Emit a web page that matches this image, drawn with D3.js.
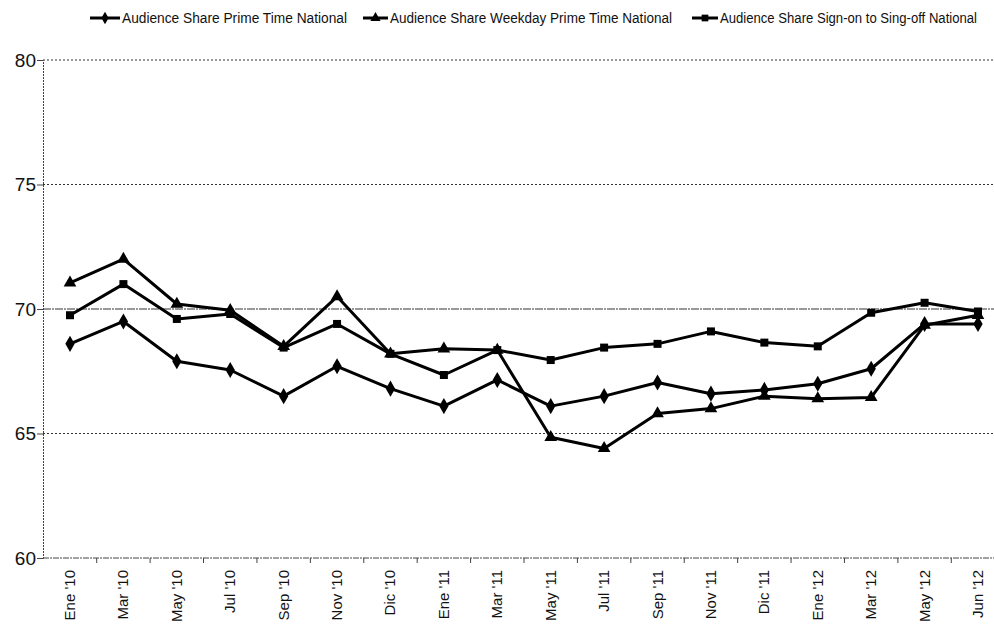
<!DOCTYPE html>
<html><head><meta charset="utf-8">
<script src="https://cdn.jsdelivr.net/npm/d3@7"></script>
<style>body{margin:0;background:#fff}svg{display:block}</style>
</head><body>
<svg id="c" width="994" height="628"></svg>
<script>
const categories = ["Ene '10","Mar '10","May '10","Jul '10","Sep '10","Nov '10","Dic '10","Ene '11","Mar '11","May '11","Jul '11","Sep '11","Nov '11","Dic '11","Ene '12","Mar '12","May '12","Jun '12"];
const primeTime = [68.6,69.5,67.9,67.55,66.5,67.7,66.8,66.1,67.15,66.1,66.5,67.05,66.6,66.75,67.0,67.6,69.4,69.4];
const weekdayPrimeTime = [71.05,72.0,70.2,69.95,68.5,70.5,68.2,68.4,68.35,64.85,64.4,65.8,66.0,66.5,66.4,66.45,69.35,69.75];
const signOnOff = [69.75,71.0,69.6,69.8,68.45,69.4,68.2,67.35,68.35,67.95,68.45,68.6,69.1,68.65,68.5,69.85,70.25,69.9];
const seriesNames = ["Audience Share Prime Time National","Audience Share Weekday Prime Time National","Audience Share Sign-on to Sing-off National"];
const yTicks = [60,65,70,75,80];

const svg = d3.select("#c");
const x = d3.scalePoint().domain(categories).range([70, 978]);
const y = d3.scaleLinear().domain([60, 80]).range([558, 60]);
const step = x.step();

// gridlines
svg.append("g").selectAll("line").data(yTicks.filter(t => t > 60)).join("line")
  .attr("x1", 43).attr("x2", 994)
  .attr("y1", d => y(d)).attr("y2", d => y(d))
  .attr("stroke", "#333").attr("stroke-width", 1)
  .attr("stroke-dasharray", d => d === 70 ? "8,1,2,1" : "2,2");

// y axis
const yAxis = d3.axisLeft(y).tickValues(yTicks).tickSize(6).tickFormat(d3.format("d"));
const gy = svg.append("g").attr("transform", "translate(43,0)").call(yAxis);
gy.select(".domain").attr("stroke", "#444").attr("stroke-dasharray", "2,1");
gy.selectAll(".tick line").attr("stroke", "#444");
gy.selectAll(".tick text").attr("font-family", "'Liberation Sans Narrow','Liberation Sans',Arial,sans-serif")
  .attr("font-size", 19).attr("fill", "#111").attr("x", -7);

// x axis
const gx = svg.append("g").attr("transform", "translate(0,558)");
gx.append("line").attr("x1", 43).attr("x2", 994).attr("y1", 0).attr("y2", 0)
  .attr("stroke", "#444").attr("stroke-width", 1).attr("stroke-dasharray", "6,1,2,1");
gx.selectAll("line.tk").data(categories).join("line").attr("class", "tk")
  .attr("x1", d => x(d) + step / 2).attr("x2", d => x(d) + step / 2)
  .attr("y1", 0).attr("y2", 5).attr("stroke", "#444");
gx.selectAll("text").data(categories).join("text")
  .attr("transform", d => `translate(${x(d) + 5},12) rotate(-90)`)
  .attr("text-anchor", "end")
  .attr("font-family", "'Liberation Sans',Arial,sans-serif")
  .attr("font-size", 15).attr("fill", "#111")
  .text(d => d);

const seriesData = [primeTime, weekdayPrimeTime, signOnOff];
const symbols = [d3.symbolDiamond, d3.symbolTriangle, d3.symbolSquare];
const symSizes = [75, 70, 64];
const line = d3.line().x((d, i) => x(categories[i])).y(d => y(d));

seriesData.forEach((vals, k) => {
  svg.append("path").datum(vals).attr("d", line)
    .attr("fill", "none").attr("stroke", "#000").attr("stroke-width", 3).attr("stroke-linejoin", "round");
  svg.append("g").selectAll("path").data(vals).join("path")
    .attr("transform", (d, i) => `translate(${x(categories[i])},${y(d)})`)
    .attr("d", d3.symbol().type(symbols[k]).size(symSizes[k]))
    .attr("fill", "#000");
});

// legend
const legX = [[90, 120, 122, 225], [363, 388, 390, 282], [692, 718, 720, 257]];
seriesNames.forEach((name, k) => {
  const [a, b, tx, tw] = legX[k];
  const g = svg.append("g");
  g.append("line").attr("x1", a).attr("x2", b).attr("y1", 18).attr("y2", 18)
    .attr("stroke", "#000").attr("stroke-width", 3);
  g.append("path").attr("transform", `translate(${(a + b) / 2},18)`)
    .attr("d", d3.symbol().type(symbols[k]).size(45)).attr("fill", "#000");
  g.append("text").attr("x", tx).attr("y", 23)
    .attr("font-family", "'Liberation Sans Narrow','Liberation Sans',Arial,sans-serif")
    .attr("font-size", 14).attr("fill", "#111")
    .attr("textLength", tw).attr("lengthAdjust", "spacingAndGlyphs")
    .text(name);
});
</script>
</body></html>
